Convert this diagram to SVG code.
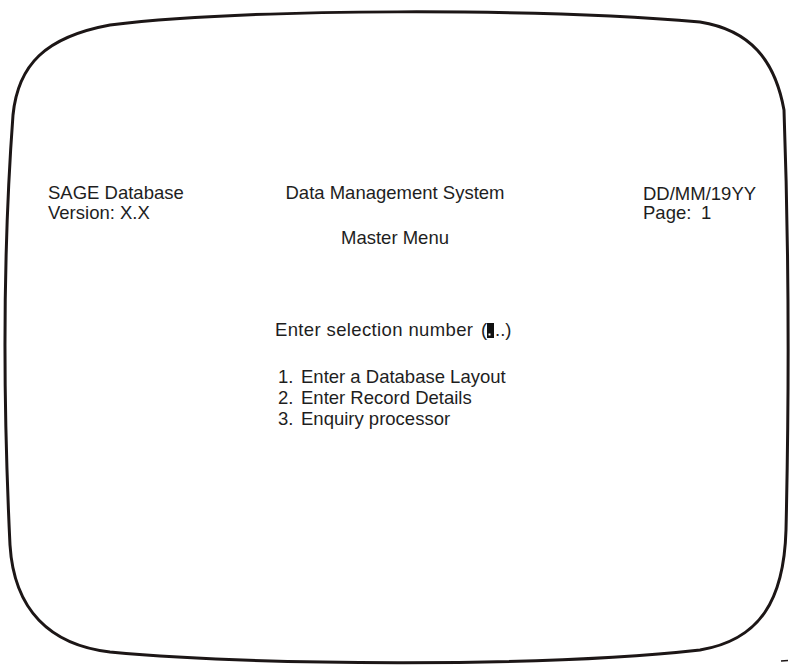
<svg xmlns="http://www.w3.org/2000/svg" width="790" height="666" viewBox="0 0 790 666">
  <style>
    .screen { fill: none; stroke: #1c1616; stroke-width: 3; stroke-linejoin: round; stroke-linecap: round; }
    .t { font-family: "Liberation Sans", Arial, Helvetica, sans-serif; font-size: 18.5px; fill: #1e1e1e; }
    .mid { text-anchor: middle; }
  </style>
  <rect width="790" height="666" fill="#ffffff"/>

  <!-- monitor screen outline -->
  <path class="screen" d="M 110,25
    C 250,8 540,8 700,22
    C 750,30 775,60 784,110
    C 789,250 789,400 786,530
    C 784,600 760,640 700,650
    C 540,668 250,665 110,652
    C 50,645 14,610 10,545
    C 3,400 3,250 13,115
    C 18,65 45,37 110,25 Z"/>
  <line x1="781" y1="661" x2="788" y2="660.5" stroke="#1c1616" stroke-width="1.5"/>

  <!-- header -->
  <g id="header-left">
    <text class="t" x="48" y="199">SAGE Database</text>
    <text class="t" x="48" y="219">Version: X.X</text>
  </g>
  <g id="header-centre">
    <text class="t mid" x="395" y="199">Data Management System</text>
    <text class="t mid" x="395" y="244">Master Menu</text>
  </g>
  <g id="header-right">
    <text class="t" x="643" y="200">DD/MM/19YY</text>
    <text class="t" x="643" y="219">Page:</text>
    <text class="t" x="701" y="219">1</text>
  </g>

  <!-- selection prompt with block cursor -->
  <g id="prompt">
    <text class="t" x="275" y="336" textLength="198" lengthAdjust="spacing">Enter selection number</text>
    <text class="t" x="481" y="336">(</text>
    <rect x="487" y="323" width="7" height="15" fill="#111"/>
    <rect x="488.5" y="333.5" width="2" height="2" fill="#fff"/>
    <text class="t" x="495" y="336">..)</text>
  </g>

  <!-- menu options -->
  <g id="options">
    <text class="t" x="278" y="383">1.</text>
    <text class="t" x="301" y="383">Enter a Database Layout</text>
    <text class="t" x="278" y="404">2.</text>
    <text class="t" x="301" y="404">Enter Record Details</text>
    <text class="t" x="278" y="425">3.</text>
    <text class="t" x="301" y="425">Enquiry processor</text>
  </g>
</svg>
